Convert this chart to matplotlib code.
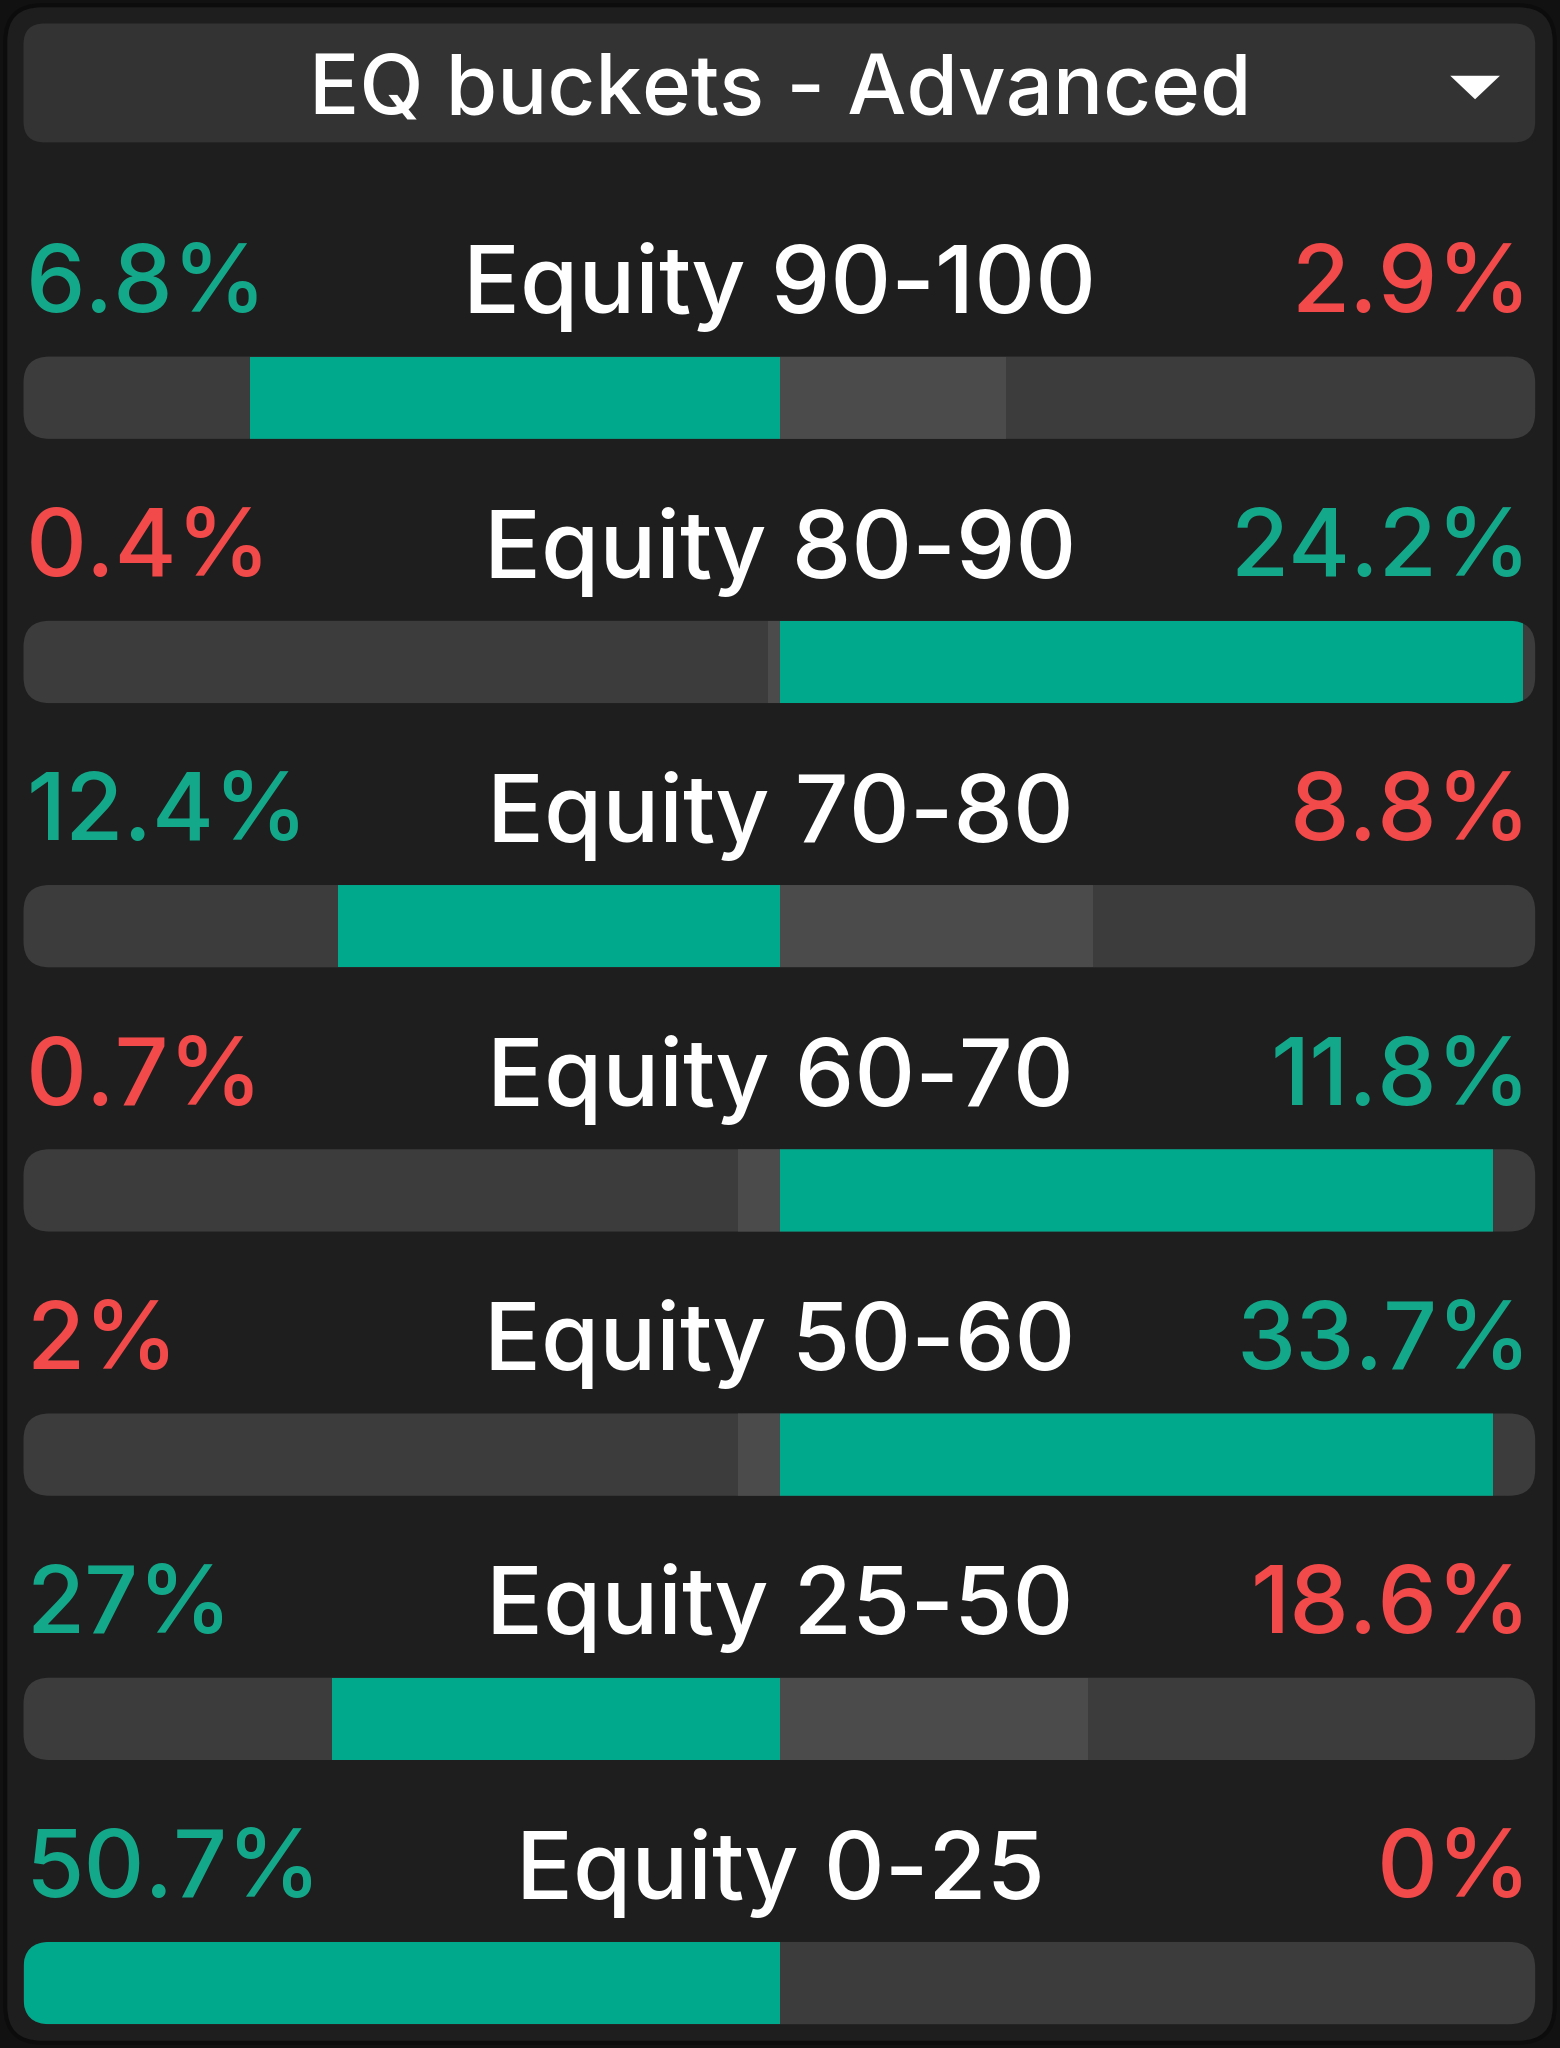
import matplotlib.pyplot as plt
from matplotlib.patches import FancyBboxPatch, Rectangle, Polygon

title = "EQ buckets - Advanced"
buckets = ["Equity 90-100", "Equity 80-90", "Equity 70-80", "Equity 60-70",
           "Equity 50-60", "Equity 25-50", "Equity 0-25"]
left_vals = [6.8, 0.4, 12.4, 0.7, 2, 27, 50.7]
right_vals = [2.9, 24.2, 8.8, 11.8, 33.7, 18.6, 0]
left_labels = ["6.8%", "0.4%", "12.4%", "0.7%", "2%", "27%", "50.7%"]
right_labels = ["2.9%", "24.2%", "8.8%", "11.8%", "33.7%", "18.6%", "0%"]

GREEN = "#00a88c"
GREEN_TXT = "#14a88a"
RED = "#f24a4a"
BG = "#1e1e1e"
TRACK = "#3c3c3c"
OTHER = "#4b4b4b"

plt.rcParams['font.family'] = ['Inter', 'DejaVu Sans']
W, H = 1194, 1568
fig = plt.figure(figsize=(15.6, 20.48), dpi=100)
fig.patch.set_facecolor("#111111")
ax = fig.add_axes([0, 0, 1, 1])
ax.set_xlim(0, W)
ax.set_ylim(H, 0)
ax.axis('off')

ax.add_patch(FancyBboxPatch((4, 4), W - 8, H - 8, boxstyle="round,pad=0,rounding_size=28",
                            fc=BG, ec="#0c0c0c", lw=3))
ax.add_patch(FancyBboxPatch((18, 18), 1157, 91, boxstyle="round,pad=0,rounding_size=16",
                            fc="#333333", ec="none"))
ax.text(597, 70, title, color="white", fontsize=60, ha="center", va="center", fontweight="medium")
ax.add_patch(Polygon([[1110, 58], [1148, 58], [1129, 76]], closed=True, fc="white", ec="none"))

x0, x1, cx = 18, 1175, 597
half = cx - x0
step = 202.3
for i, name in enumerate(buckets):
    ly = 220 + i * step
    by = 273 + i * step
    bh = 63
    lv, rv = left_vals[i], right_vals[i]
    green_left = lv >= rv
    lc = GREEN_TXT if green_left else RED
    rc = RED if green_left else GREEN_TXT
    ax.text(20, ly, left_labels[i], color=lc, fontsize=68, ha="left", va="center", fontweight="medium")
    ax.text(1172, ly, right_labels[i], color=rc, fontsize=68, ha="right", va="center", fontweight="medium")
    ax.text(cx, ly, name, color="white", fontsize=68, ha="center", va="center", fontweight="medium")

    track = FancyBboxPatch((x0, by), x1 - x0, bh, boxstyle="round,pad=0,rounding_size=20",
                           fc=TRACK, ec="none")
    ax.add_patch(track)
    total = lv + rv
    lw_ = lv / total * half if total else 0
    rw_ = rv / total * (x1 - cx) if total else 0
    lr = Rectangle((cx - lw_, by), lw_, bh, fc=GREEN if green_left else OTHER, ec="none")
    rr = Rectangle((cx, by), rw_, bh, fc=OTHER if green_left else GREEN, ec="none")
    for r in (lr, rr):
        ax.add_patch(r)
        r.set_clip_path(track)

fig.savefig("out.png", dpi=100, facecolor=fig.get_facecolor())
